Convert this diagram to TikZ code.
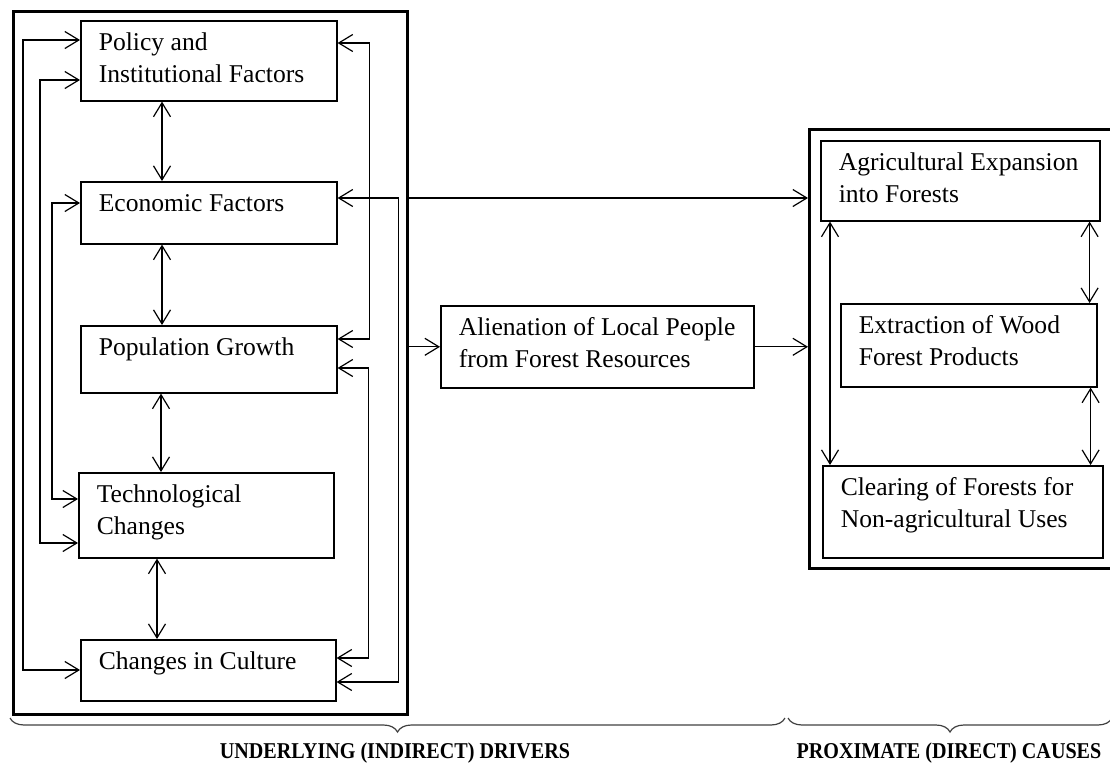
\documentclass[tikz,border=0pt]{standalone}
\usepackage{fontspec}
\setmainfont{Liberation Serif}
\usepackage{graphicx}
\usetikzlibrary{arrows.meta,calc,decorations.pathreplacing}
\newdimen\pxunit \pxunit=0.5pt
\newcommand{\boxtext}[3]{\parbox[c][#2\pxunit][t]{#1\pxunit}{\raggedright\leftskip=18\pxunit\rule{0pt}{14.8pt}#3}}
\newcommand{\bracelabel}[1]{\scalebox{0.89}[1]{\fontsize{11.3}{13}\selectfont\bfseries #1}}

\begin{document}
\begin{tikzpicture}[x=0.5pt, y=-0.5pt,
    font=\fontsize{12.8}{15.8}\selectfont,
    factor/.style={draw, line width=0.8pt, inner sep=0pt, anchor=north west},
    frame/.style={draw, line width=1.7pt, inner sep=0pt, anchor=north west},
    link/.style={{Straight Barb[length=7pt,width=8.5pt]}-{Straight Barb[length=7pt,width=8.5pt]}, line width=0.6pt},
    feed/.style={-{Straight Barb[length=7pt,width=8.5pt]}, line width=0.6pt},
    span/.style={decorate, decoration={brace, mirror, amplitude=7pt}, line width=0.6pt, black!75}]
  \useasboundingbox (0,0) rectangle (1110,766);

  % the two groups
  \node[frame, minimum width=394\pxunit, minimum height=703\pxunit] (under) at (12,10) {};
  \node[frame, minimum width=330\pxunit, minimum height=439\pxunit] (proxim) at (808,128) {};

  % underlying drivers
  \node[factor] (policy) at (80,20) {\boxtext{256}{80}{Policy and\\Institutional Factors}};
  \node[factor] (econ) at (80,181) {\boxtext{256}{62}{Economic Factors}};
  \node[factor] (pop) at (80,325) {\boxtext{256}{67}{Population Growth}};
  \node[factor] (tech) at (78,472) {\boxtext{255}{85}{Technological\\Changes}};
  \node[factor] (culture) at (80,639) {\boxtext{255}{61}{Changes in Culture}};

  \node[factor] (alien) at (440,305) {\boxtext{313}{82}{Alienation of Local People\\from Forest Resources}};

  % proximate causes
  \node[factor] (agri) at (820,140) {\boxtext{279}{80}{Agricultural Expansion\\into Forests}};
  \node[factor] (extract) at (840,303) {\boxtext{256}{83}{Extraction of Wood\\Forest Products}};
  \node[factor] (clear) at (822,465) {\boxtext{280}{92}{Clearing of Forests for\\Non-agricultural Uses}};

  \foreach \a/\b/\dx in {policy/econ/82, econ/pop/82, pop/tech/81, tech/culture/79}
    \draw[link] ($(\a.south west)+(\dx,0)$) coordinate (m) -- (m |- \b.north);

  % feedback loops, left side
  \draw[link] ($(policy.north west)+(0,20)$) -- ++(-57,0) |- ($(culture.north west)+(0,31)$);
  \draw[link] ($(policy.north west)+(0,60)$) -- ++(-40,0) |- ($(tech.north west)+(0,71)$);
  \draw[link] ($(econ.north west)+(0,22)$) -- ++(-28,0) |- ($(tech.north west)+(0,27)$);
  % right side
  \draw[link] ($(policy.north east)+(0,23)$) -- ++(32,0) |- ($(pop.north east)+(0,14)$);
  \draw[link] ($(econ.north east)+(0,17)$) -- ++(61,0) |- ($(culture.north east)+(0,43)$);
  \draw[link] ($(pop.north east)+(0,43)$) -- ++(31,0) |- ($(culture.north east)+(0,19)$);

  \coordinate (econout) at ($(econ.north east)+(0,17)$);
  \draw[feed] (econout -| under.east) -- (econout -| proxim.west);
  \draw[feed] (alien.west -| under.east) -- (alien.west);
  \draw[feed] (alien.east) -- (alien.east -| proxim.west);

  \draw[link] ($(agri.south west)+(10,0)$) coordinate (m) -- (m |- clear.north);
  \draw[link] ($(agri.south east)+(-11,0)$) coordinate (m) -- (m |- extract.north);
  \draw[link] ($(extract.south east)+(-7,0)$) coordinate (m) -- (m |- clear.north);

  % braces and captions
  \draw[span] (10,718) -- (785,718);
  \draw[span] (788,718) -- (1112,718);
  \node (underlbl) at (395,753) {\bracelabel{UNDERLYING (INDIRECT) DRIVERS}};
  \node (proxlbl) at (949,753) {\bracelabel{PROXIMATE (DIRECT) CAUSES}};
\end{tikzpicture}
\end{document}
